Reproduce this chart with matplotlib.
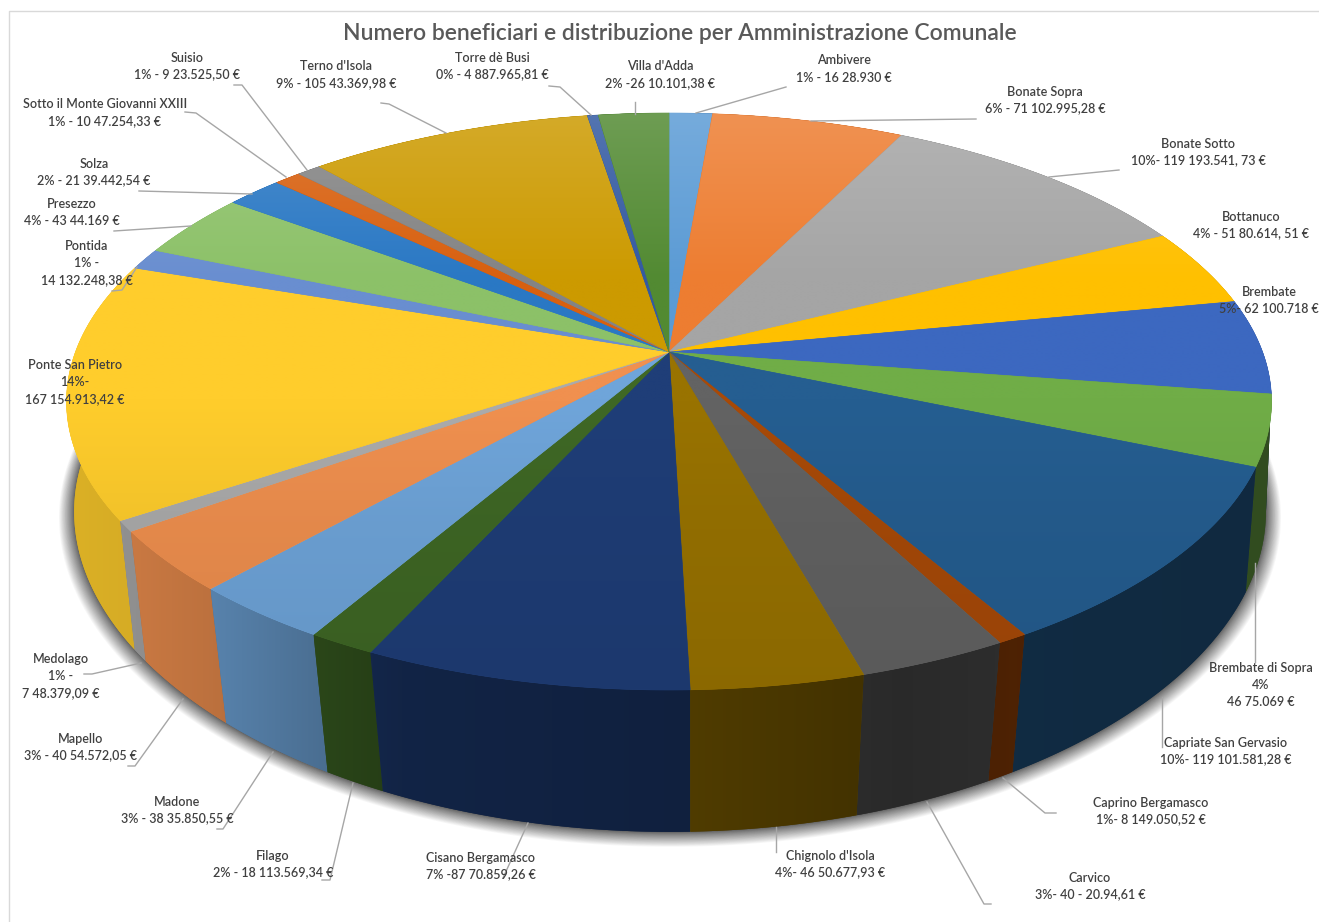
import numpy as np
import matplotlib
matplotlib.use('Agg')
import matplotlib.pyplot as plt
from matplotlib.patches import Polygon
from matplotlib.colors import to_rgb

plt.rcParams['font.family'] = ['Lato', 'DejaVu Sans']

# Beneficiaries per municipality, clockwise from twelve o'clock
comuni = ["Ambivere", "Bonate Sopra", "Bonate Sotto", "Bottanuco", "Brembate",
          "Brembate di Sopra", "Capriate San Gervasio", "Caprino Bergamasco",
          "Carvico", "Chignolo d'Isola", "Cisano Bergamasco", "Filago", "Madone",
          "Mapello", "Medolago", "Ponte San Pietro", "Pontida", "Presezzo",
          "Solza", "Sotto il Monte Giovanni XXIII", "Suisio", "Terno d'Isola",
          "Torre dè Busi", "Villa d'Adda"]
beneficiari = [16, 71, 119, 51, 62, 46, 119, 8, 40, 46, 87, 18, 38, 40, 7, 167,
               14, 43, 21, 10, 9, 105, 4, 26]
dettagli = ["1% - 16 28.930 €", "6% - 71 102.995,28 €", "10%- 119 193.541, 73 €",
            "4% - 51 80.614, 51 €", "5%- 62 100.718 €", "4%\n46 75.069 €",
            "10%- 119 101.581,28 €", "1%- 8 149.050,52 €", "3%- 40 - 20.94,61 €",
            "4%- 46 50.677,93 €", "7% -87 70.859,26 €", "2% - 18 113.569,34 €",
            "3% - 38 35.850,55 €", "3% - 40 54.572,05 €", "1% -\n7 48.379,09 €",
            "14%-\n167 154.913,42 €", "1% -\n14 132.248,38 €", "4% - 43 44.169 €",
            "2% - 21 39.442,54 €", "1% - 10 47.254,33 €", "1% - 9 23.525,50 €",
            "9% - 105 43.369,98 €", "0% - 4 887.965,81 €", "2% -26 10.101,38 €"]

colori = ["#5B9BD5", "#ED7D31", "#A5A5A5", "#FFC000", "#3C68C0", "#70AD47",
          "#255E91", "#A84A08", "#636363", "#997300", "#1F3E78", "#3F6825",
          "#6FA5DA", "#F0904F", "#ABABAB", "#FFCD2C", "#698ED0", "#8CC168",
          "#2A78C4", "#D8600F", "#848484", "#CC9A00", "#335AA1", "#528A32"]

# Label centres and leader lines, in pixels
pos_etichette = [(844, 69), (1045, 100), (1198, 152), (1251, 225), (1269, 300),
                 (1261, 685), (1226, 751), (1151, 811), (1090, 886), (830, 864),
                 (481, 866), (273, 864), (177, 810), (81, 747), (61, 676),
                 (75, 382), (87, 263), (72, 212), (94, 172), (105, 113),
                 (187, 66), (336, 75), (492, 66), (660, 75)]
leader = [[(786, 87), (696, 113)], [(976, 119), (811, 121)], [(1119, 170), (1049, 177)],
          None, None, [(1255, 662), (1255, 563)], [(1162, 747), (1162, 697)],
          [(1056, 813), (1045, 813), (1003, 778)], [(991, 904), (984, 904), (927, 802)],
          [(776, 852), (776, 827)], [(503, 878), (528, 823)],
          [(322, 880), (330, 880), (353, 783)], [(217, 829), (223, 829), (273, 752)],
          [(128, 766), (135, 766), (183, 699)], [(84, 674), (92, 674), (141, 663)],
          None, [(112, 291), (122, 290), (137, 267)], [(114, 231), (191, 226)],
          [(139, 191), (252, 194)], [(185, 112), (196, 113), (286, 177)],
          [(234, 85), (242, 85), (307, 170)], [(381, 103), (389, 104), (446, 133)],
          [(549, 86), (560, 87), (591, 115)], [(635, 102), (635, 114)]]

W, H = 1319, 922
K = 0.1716  # perspective of the disc


def ring(theta, cx, cy, a, b, kx=K):
    u, v = np.sin(theta), np.cos(theta)
    return cx + a * u / (1 + kx * v), cy - b * v / (1 + K * v)


def top_ring(theta):
    return ring(theta, 669.0, 352.0, 593.6, 280.0)


def bottom_ring(theta, grow=0.0):
    return ring(theta, 670.0, 468.5 + 0.3 * grow, 590.0 * (1 + grow / 590), 301.0 * (1 + 0.7 * grow / 365), kx=0.14)


def mix(col, t):
    # t > 0 lightens, t < 0 darkens
    c = np.array(to_rgb(col))
    return c + (1 - c) * t if t >= 0 else c * (1 + t)


def top_shade(y):
    return np.interp(y, [113, 280, 400, 520, 690], [0.16, 0.0, 0.0, -0.05, -0.09])


def wall_shade(x):
    return np.interp(x, [70, 130, 220, 330, 400, 690, 900, 1010, 1270],
                     [0.86, 0.84, 0.78, 0.66, 0.58, 0.52, 0.42, 0.46, 0.44])


def gradient_patch(ax, xs, ys, poly, rgb_func, vertical):
    x0, x1, y0, y1 = xs.min(), xs.max(), ys.min(), ys.max()
    if vertical:
        grid = np.linspace(y0, y1, 80)
        img = np.array([rgb_func(g) for g in grid])[:, None, :]
    else:
        grid = np.linspace(x0, x1, 80)
        img = np.array([rgb_func(g) for g in grid])[None, :, :]
    im = ax.imshow(img, extent=[x0, x1, y1, y0], aspect='auto', interpolation='bilinear', zorder=poly.get_zorder())
    ax.add_patch(poly)
    poly.set_facecolor('none')
    poly.set_edgecolor('none')
    im.set_clip_path(poly)


fig = plt.figure(figsize=(W / 100, H / 100), dpi=100, facecolor='white')
ax = fig.add_axes([0, 0, 1, 1])
ax.axis('off')

vals = np.array(beneficiari, dtype=float)
edges = np.concatenate([[0], np.cumsum(vals)]) / vals.sum() * 2 * np.pi

# Soft shadow around the base, rings packed closer near the wall
t_all = np.linspace(0, 2 * np.pi, 500)
for i in range(28, 0, -1):
    sx, sy = bottom_ring(t_all, grow=15 * (i / 28) ** 1.5)
    ax.add_patch(Polygon(np.column_stack([sx, sy]), closed=True, fc='black', ec='none', alpha=0.033, zorder=1))

# Side walls, back slices first
order = np.argsort(-np.cos((edges[:-1] + edges[1:]) / 2))
for i in order:
    t = np.linspace(edges[i], edges[i + 1], 60)
    tx, ty = top_ring(t)
    bx, by = bottom_ring(t)
    xs = np.concatenate([tx, bx[::-1]])
    ys = np.concatenate([ty, by[::-1]])
    base = np.array(to_rgb(colori[i]))
    ax.add_patch(Polygon(np.column_stack([xs, ys]), closed=True, fc=base * wall_shade(xs.mean()), ec='none', zorder=2))
    gradient_patch(ax, xs, ys, Polygon(np.column_stack([xs, ys]), closed=True, zorder=2, transform=ax.transData),
                   lambda g, b=base: b * wall_shade(g), False)

# Upper face of each slice
for i in range(len(vals)):
    t = np.linspace(edges[i], edges[i + 1], 80)
    tx, ty = top_ring(t)
    xs = np.concatenate([[669.0], tx])
    ys = np.concatenate([[352.0], ty])
    ax.add_patch(Polygon(np.column_stack([xs, ys]), closed=True, fc=colori[i], ec=colori[i], lw=0.4, zorder=3))
    gradient_patch(ax, xs, ys, Polygon(np.column_stack([xs, ys]), closed=True, zorder=3, transform=ax.transData),
                   lambda g, c=colori[i]: mix(c, top_shade(g)), True)

# Leader lines and labels
for i, nome in enumerate(comuni):
    if leader[i] is not None:
        lx, ly = zip(*leader[i])
        ax.plot(lx, ly, color='#a6a6a6', lw=1.0, zorder=4)
    ax.text(pos_etichette[i][0], pos_etichette[i][1], nome + "\n" + dettagli[i], ha='center', va='center',
            fontsize=9, color='#404040', fontweight='semibold', linespacing=1.5, zorder=5)

ax.text(680, 34, "Numero beneficiari e distribuzione per Amministrazione Comunale", ha='center', va='center',
        fontsize=16.5, color='#595959', fontweight='semibold', zorder=5)

# Chart frame, only the top and left edges fall inside the figure
ax.plot([9, 9, W], [H, 11, 11], color='#d9d9d9', lw=1.0, zorder=0)

ax.set_xlim(0, W)
ax.set_ylim(H, 0)
fig.savefig('out.png', dpi=100, facecolor='white')
